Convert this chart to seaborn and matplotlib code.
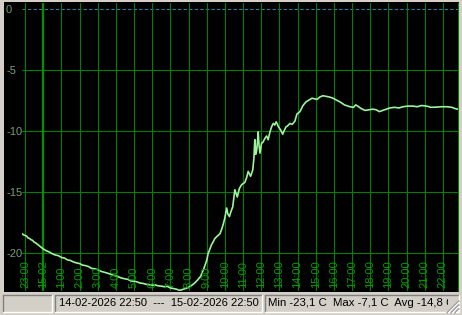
import matplotlib
matplotlib.use("Agg")
import matplotlib.pyplot as plt
import matplotlib.dates as mdates
from matplotlib.patches import Rectangle
from matplotlib.lines import Line2D
import seaborn as sns
import pandas as pd

# ---------------- data ----------------
start_date = "2026-02-14"
times = ["22:50", "22:55", "23:00", "23:05", "23:10", "23:15", "23:20", "23:25", "23:30", "23:35",
         "23:40", "23:45", "23:50", "23:55", "00:00", "00:10", "00:20", "00:30", "00:40", "00:50",
         "01:00", "01:10", "01:20", "01:30", "01:40", "01:50", "02:00", "02:10", "02:20", "02:30",
         "02:40", "02:50", "03:00", "03:10", "03:20", "03:30", "03:40", "03:50", "04:00", "04:10",
         "04:20", "04:30", "04:40", "04:50", "05:00", "05:10", "05:20", "05:30", "05:40", "05:50",
         "06:00", "06:10", "06:20", "06:30", "06:40", "06:50", "07:00", "07:10", "07:20", "07:30",
         "07:40", "07:50", "08:00", "08:10", "08:20", "08:30", "08:40", "08:50", "09:00", "09:05",
         "09:10", "09:16", "09:22", "09:27", "09:35", "09:44", "09:50", "09:55", "10:00", "10:06",
         "10:10", "10:15", "10:20", "10:26", "10:30", "10:33", "10:37", "10:41", "10:48", "10:55",
         "11:00", "11:06", "11:12", "11:17", "11:21", "11:25", "11:32", "11:36", "11:39", "11:42",
         "11:45", "11:48", "11:50", "11:53", "11:56", "12:01", "12:06", "12:12", "12:18", "12:23",
         "12:29", "12:35", "12:40", "12:45", "12:49", "12:53", "12:57", "13:04", "13:11", "13:16",
         "13:22", "13:28", "13:35", "13:42", "13:51", "13:58", "14:08", "14:18", "14:28", "14:38",
         "14:48", "14:56", "15:04", "15:14", "15:24", "15:34", "15:45", "15:57", "16:08", "16:20",
         "16:35", "16:53", "17:05", "17:12", "17:19", "17:30", "17:43", "17:55", "18:09", "18:20",
         "18:30", "18:42", "18:55", "19:05", "19:20", "19:35", "19:48", "20:05", "20:21", "20:35",
         "20:50", "21:07", "21:20", "21:40", "21:55", "22:13", "22:30", "22:40", "22:50"]
temps = [-18.40, -18.50, -18.55, -18.60, -18.75, -18.80, -18.90, -18.95, -19.10, -19.15,
         -19.25, -19.35, -19.45, -19.55, -19.65, -19.80, -19.90, -20.05, -20.15, -20.20,
         -20.35, -20.40, -20.55, -20.60, -20.72, -20.80, -20.85, -20.98, -21.02, -21.10,
         -21.25, -21.28, -21.35, -21.48, -21.55, -21.62, -21.70, -21.80, -21.85, -21.95,
         -22.05, -22.10, -22.15, -22.28, -22.30, -22.35, -22.45, -22.48, -22.55, -22.58,
         -22.62, -22.60, -22.68, -22.70, -22.75, -22.72, -22.85, -22.90, -22.95, -23.05,
         -22.98, -22.90, -22.80, -22.65, -22.45, -22.20, -21.90, -21.30, -20.60, -20.00,
         -19.70, -19.30, -19.05, -18.80, -18.60, -18.40, -18.00, -17.60, -17.10, -16.30,
         -16.80, -17.00, -16.60, -16.20, -15.40, -14.80, -15.10, -15.40, -14.70, -14.40,
         -14.30, -14.20, -13.80, -13.30, -13.50, -13.70, -13.20, -12.20, -10.70, -11.90,
         -11.60, -10.80, -10.06, -11.20, -11.80, -11.00, -10.90, -10.60, -10.40, -10.70,
         -10.06, -9.60, -9.37, -9.50, -9.24, -9.40, -9.65, -9.90, -10.25, -9.95,
         -9.65, -9.55, -9.37, -9.45, -9.20, -8.60, -8.40, -7.90, -7.60, -7.45,
         -7.30, -7.35, -7.40, -7.20, -7.10, -7.15, -7.20, -7.30, -7.45, -7.60,
         -7.85, -8.00, -8.05, -7.85, -7.95, -8.15, -8.30, -8.25, -8.20, -8.25,
         -8.40, -8.30, -8.20, -8.10, -8.05, -8.10, -8.00, -7.95, -7.95, -8.00,
         -7.90, -7.95, -8.05, -8.03, -8.00, -8.00, -8.05, -8.15, -8.20]
hour_labels = ["23:00", "15.02", "1:00", "2:00", "3:00", "4:00", "5:00", "6:00", "7:00", "8:00",
               "9:00", "10:00", "11:00", "12:00", "13:00", "14:00", "15:00", "16:00", "17:00",
               "18:00", "19:00", "20:00", "21:00", "22:00"]
y_ticks = [0, -5, -10, -15, -20]
period_text = "14-02-2026 22:50  ---  15-02-2026 22:50"
stats_text = "Min -23,1 C  Max -7,1 C  Avg -14,8 C"

# build timestamps (roll over to the next day when clock goes backwards)
stamps = []
day = pd.Timestamp(start_date)
prev = None
for t in times:
    h, m = map(int, t.split(":"))
    cur = h * 60 + m
    if prev is not None and cur < prev:
        day = day + pd.Timedelta(days=1)
    prev = cur
    stamps.append(day + pd.Timedelta(minutes=cur))
df = pd.DataFrame({"time": stamps, "temp": temps})

t0 = stamps[0]
t1 = stamps[-1]
hour_ticks = [pd.Timestamp("2026-02-14 23:00") + pd.Timedelta(hours=i) for i in range(len(hour_labels))]

# ---------------- figure ----------------
sns.set_style("dark")
plt.rcParams["font.family"] = ["Liberation Sans", "DejaVu Sans"]

W, H = 462, 315
fig = plt.figure(figsize=(W / 100, H / 100), dpi=100, facecolor="#d4d0c8")

def fx(px):
    return px / W

def fy(py):
    return 1 - py / H

# black window area
bg = Rectangle((fx(4), fy(292)), fx(459) - fx(4), fy(2) - fy(292),
               transform=fig.transFigure, facecolor="black", edgecolor="none", zorder=-10)
fig.patches.append(bg)

ax = fig.add_axes([fx(22), fy(291), fx(458) - fx(22), fy(3) - fy(291)])
ax.set_zorder(5)
ax.set_facecolor("black")

grid_c = "#008000"
# horizontal grid
for v in y_ticks:
    if v == 0:
        ax.axhline(v, color="#2a7fa8", lw=0.8, ls=(0, (3, 2)), zorder=1)
    else:
        ax.axhline(v, color=grid_c, lw=0.8, zorder=1)
# vertical grid
for ts, lab in zip(hour_ticks, hour_labels):
    thick = "." in lab
    ax.axvline(mdates.date2num(ts), color="#009000" if thick else grid_c,
               lw=1.6 if thick else 0.8, zorder=1)

sns.lineplot(data=df, x="time", y="temp", ax=ax, color="#9cf59c", lw=1.2, zorder=3)

ax.set_xlim(mdates.date2num(t0), mdates.date2num(t1))
ax.set_ylim(-23.1, 0.5)
ax.set_xticks([])
ax.set_yticks(y_ticks)
ax.set_yticklabels([str(v) for v in y_ticks])
ax.tick_params(axis="y", length=0, pad=11.5, labelsize=8, labelcolor="#7a9e7a")
for lab in ax.get_yticklabels():
    lab.set_horizontalalignment("left")
ax.set_xlabel("")
ax.set_ylabel("")
ax.grid(False)
for s in ["top", "left", "bottom"]:
    ax.spines[s].set_visible(False)
ax.spines["right"].set_color(grid_c)
ax.spines["right"].set_linewidth(0.8)

# hour labels inside the plot, rotated
for ts, lab in zip(hour_ticks, hour_labels):
    ax.text(mdates.date2num(ts), 0.012, lab, transform=ax.get_xaxis_transform(),
            rotation=90, ha="center", va="bottom", color="#00a000", fontsize=8, zorder=4)

# ---------------- status bar ----------------
def sunken(x0, y0, x1, y1):
    fig.lines.append(Line2D([fx(x0), fx(x1)], [fy(y0), fy(y0)], transform=fig.transFigure, color="#808080", lw=1))
    fig.lines.append(Line2D([fx(x0), fx(x0)], [fy(y0), fy(y1)], transform=fig.transFigure, color="#808080", lw=1))
    fig.lines.append(Line2D([fx(x0), fx(x1)], [fy(y1), fy(y1)], transform=fig.transFigure, color="white", lw=1))
    fig.lines.append(Line2D([fx(x1), fx(x1)], [fy(y0), fy(y1)], transform=fig.transFigure, color="white", lw=1))

sunken(3, 295, 52, 312)
sunken(55, 295, 262, 312)
sunken(265, 295, 459, 312)

fig.text(fx(59), fy(303.5), period_text, ha="left", va="center", fontsize=8.0, color="black")
st = fig.text(fx(268), fy(303.5), stats_text, ha="left", va="center", fontsize=8.2, color="black")
clip = Rectangle((fx(266), fy(312)), fx(448) - fx(266), fy(295) - fy(312), transform=fig.transFigure,
                 facecolor="none", edgecolor="none")
st.set_clip_path(clip)

# size grip
for k in (4, 8, 12):
    fig.lines.append(Line2D([fx(459 - k), fx(459)], [fy(313), fy(313 - k)], transform=fig.transFigure,
                            color="#808080", lw=1))
    fig.lines.append(Line2D([fx(460 - k), fx(459)], [fy(313), fy(314 - k)], transform=fig.transFigure,
                            color="white", lw=0.8))

fig.savefig("out.png", dpi=100, facecolor=fig.get_facecolor())
